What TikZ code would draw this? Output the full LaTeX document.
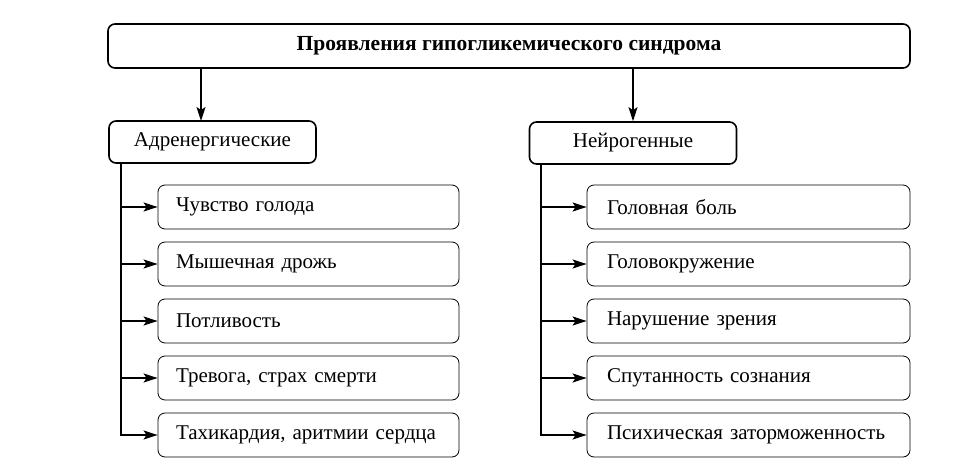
\documentclass[tikz,border=0pt]{standalone}
\usepackage{fontspec}
\setmainfont{Liberation Serif}
\usetikzlibrary{arrows.meta}
\tikzset{
	head/.style={draw, line width=1.6pt, rounded corners=7pt, minimum height=42pt, inner sep=0pt},
	item/.style={draw, line width=0.8pt, rounded corners=7pt, minimum height=44pt, inner xsep=18pt, inner ysep=0pt, align=left},
	conn/.style={line width=1.6pt, -{Stealth[length=14pt, width=9pt, inset=3pt]}}
}

\begin{document}
\begin{tikzpicture}[x=1pt, y=-1pt, font=\fontsize{21}{25}\selectfont]
	\useasboundingbox (0,0) rectangle (979,471);
	\node[head, minimum width=802pt, minimum height=44pt, font=\fontsize{21.5}{25}\selectfont\bfseries] (title) at (509,46) {Проявления гипогликемического синдрома};
	\node[head, minimum width=207pt] (adr) at (212.5,142) {Адренергические};
	\node[head, minimum width=207pt] (neu) at (633,143) {Нейрогенные};
	\coordinate (adrin) at (201,121);
	\coordinate (lbus) at (121,0);
	\coordinate (rbus) at (541,0);
	\draw[conn] (title.south -| adrin) -- (adrin);
	\draw[conn] (title.south -| neu) -- (neu);
	\foreach \t [count=\i] in {Чувство голода, Мышечная дрожь, Потливость, {Тревога, страх смерти}, {Тахикардия, аритмии сердца}}
		\node[item, text width=265pt] (l\i) at (308.5,150+57*\i) {\t};
	\foreach \t [count=\i] in {Головная боль, Головокружение, Нарушение зрения, Спутанность сознания, Психическая заторможенность}
		\node[item, inner xsep=20pt, text width=283pt] (r\i) at (748.5,150+57*\i) {\t};
	\draw[conn] (adr.south -| lbus) |- (l5.west);
	\draw[conn] (neu.south -| rbus) |- (r5.west);
	\foreach \i in {1,...,4} {
		\draw[conn] (l\i.west -| lbus) -- (l\i.west);
		\draw[conn] (r\i.west -| rbus) -- (r\i.west);
	}
\end{tikzpicture}
\end{document}
